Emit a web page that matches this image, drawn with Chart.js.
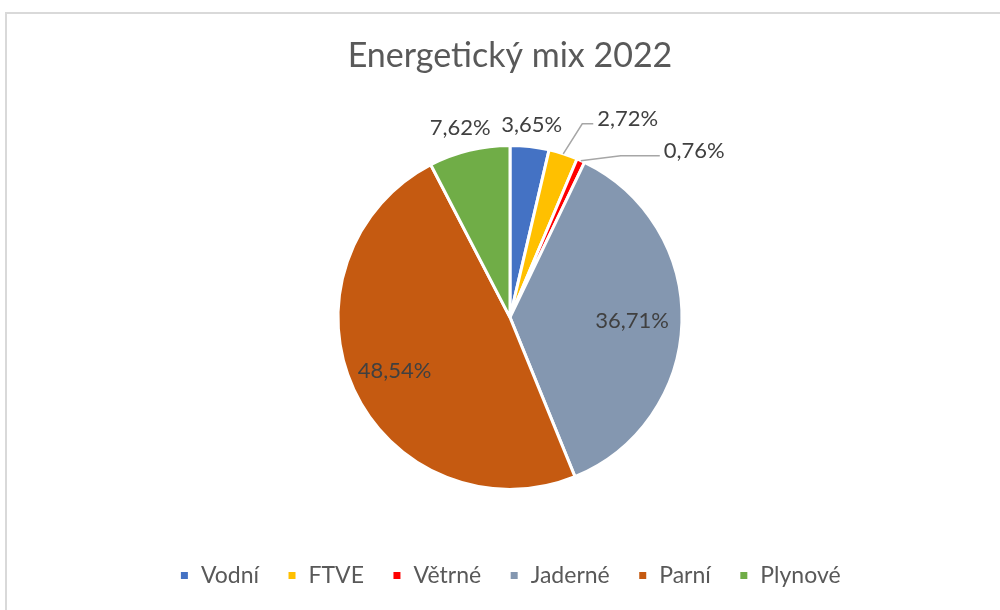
<!DOCTYPE html>
<html>
<head>
<meta charset="utf-8">
<script src="https://cdn.jsdelivr.net/npm/chart.js@4.4.1/dist/chart.umd.min.js"></script>
<style>
  html, body { margin: 0; padding: 0; background: #fff; }
  body { width: 1000px; height: 610px; position: relative; overflow: hidden; }
  .frame {
    position: absolute; left: 5px; top: 12px; width: 1010px; height: 620px;
    border: 2px solid #d9d9d9;
  }
  #wrap { position: absolute; left: 0; top: 0; width: 1000px; height: 610px; }
</style>
</head>
<body>
<div class="frame"></div>
<div id="wrap"><canvas id="chart" width="1000" height="610"></canvas></div>
<script>
// data
const categories = ['Vodní', 'FTVE', 'Větrné', 'Jaderné', 'Parní', 'Plynové'];
const shares = [3.65, 2.72, 0.76, 36.71, 48.54, 7.62];
const sliceColors = ['#4472C4', '#FFC000', '#FF0000', '#8497B0', '#C55A11', '#70AD47'];

// where each percentage label sits relative to its slice
const labelPlacement = [
  { kind: 'outside', dx: 2, dy: -22 },
  { kind: 'leader', elbow: [19, -30], tail: 11 },
  { kind: 'leader', elbow: [40, -5], tail: 39 },
  { kind: 'inside', ratio: 0.71 },
  { kind: 'inside', ratio: 0.74 },
  { kind: 'outside', dx: -9, dy: -22 }
];

const fmt = v => v.toFixed(2).replace('.', ',') + '%';

const pieLabels = {
  id: 'pieLabels',
  afterDatasetsDraw(chart) {
    const ctx = chart.ctx;
    const meta = chart.getDatasetMeta(0);
    ctx.save();
    ctx.font = '22px Lato';
    ctx.fillStyle = '#404040';
    ctx.textBaseline = 'middle';
    meta.data.forEach((arc, i) => {
      const p = arc.getProps(['x', 'y', 'startAngle', 'endAngle', 'outerRadius'], true);
      const mid = (p.startAngle + p.endAngle) / 2;
      const spec = labelPlacement[i];
      const text = fmt(shares[i]);
      const ax = p.x + Math.cos(mid) * p.outerRadius;
      const ay = p.y + Math.sin(mid) * p.outerRadius;
      if (spec.kind === 'inside') {
        ctx.textAlign = 'center';
        ctx.fillText(text, p.x + Math.cos(mid) * p.outerRadius * spec.ratio,
          p.y + Math.sin(mid) * p.outerRadius * spec.ratio);
      } else if (spec.kind === 'outside') {
        ctx.textAlign = 'center';
        ctx.fillText(text, ax + spec.dx, ay + spec.dy);
      } else {
        const ex = ax + spec.elbow[0], ey = ay + spec.elbow[1];
        ctx.strokeStyle = '#a6a6a6';
        ctx.lineWidth = 1.5;
        ctx.beginPath();
        ctx.moveTo(ax, ay);
        ctx.lineTo(ex, ey);
        ctx.lineTo(ex + spec.tail, ey);
        ctx.stroke();
        ctx.textAlign = 'left';
        ctx.fillText(text, ex + spec.tail + 4, ey - 5);
      }
    });
    ctx.restore();
  }
};

new Chart(document.getElementById('chart'), {
  type: 'pie',
  data: {
    labels: categories,
    datasets: [{
      data: shares,
      backgroundColor: sliceColors,
      borderColor: '#ffffff',
      borderWidth: 3,
      radius: 172
    }]
  },
  options: {
    responsive: false,
    animation: false,
    layout: { padding: { left: 20, right: 0, top: 0, bottom: 13 } },
    plugins: {
      title: {
        display: true,
        text: 'Energetický mix 2022',
        color: '#595959',
        font: { family: 'Lato', size: 34, weight: 'normal' },
        padding: { top: 36, bottom: 22 }
      },
      legend: {
        position: 'bottom',
        labels: {
          color: '#595959',
          font: { family: 'Lato', size: 23 },
          boxWidth: 10,
          boxHeight: 10,
          padding: 28
        }
      },
      tooltip: { enabled: false }
    }
  },
  plugins: [pieLabels]
});
</script>
</body>
</html>
